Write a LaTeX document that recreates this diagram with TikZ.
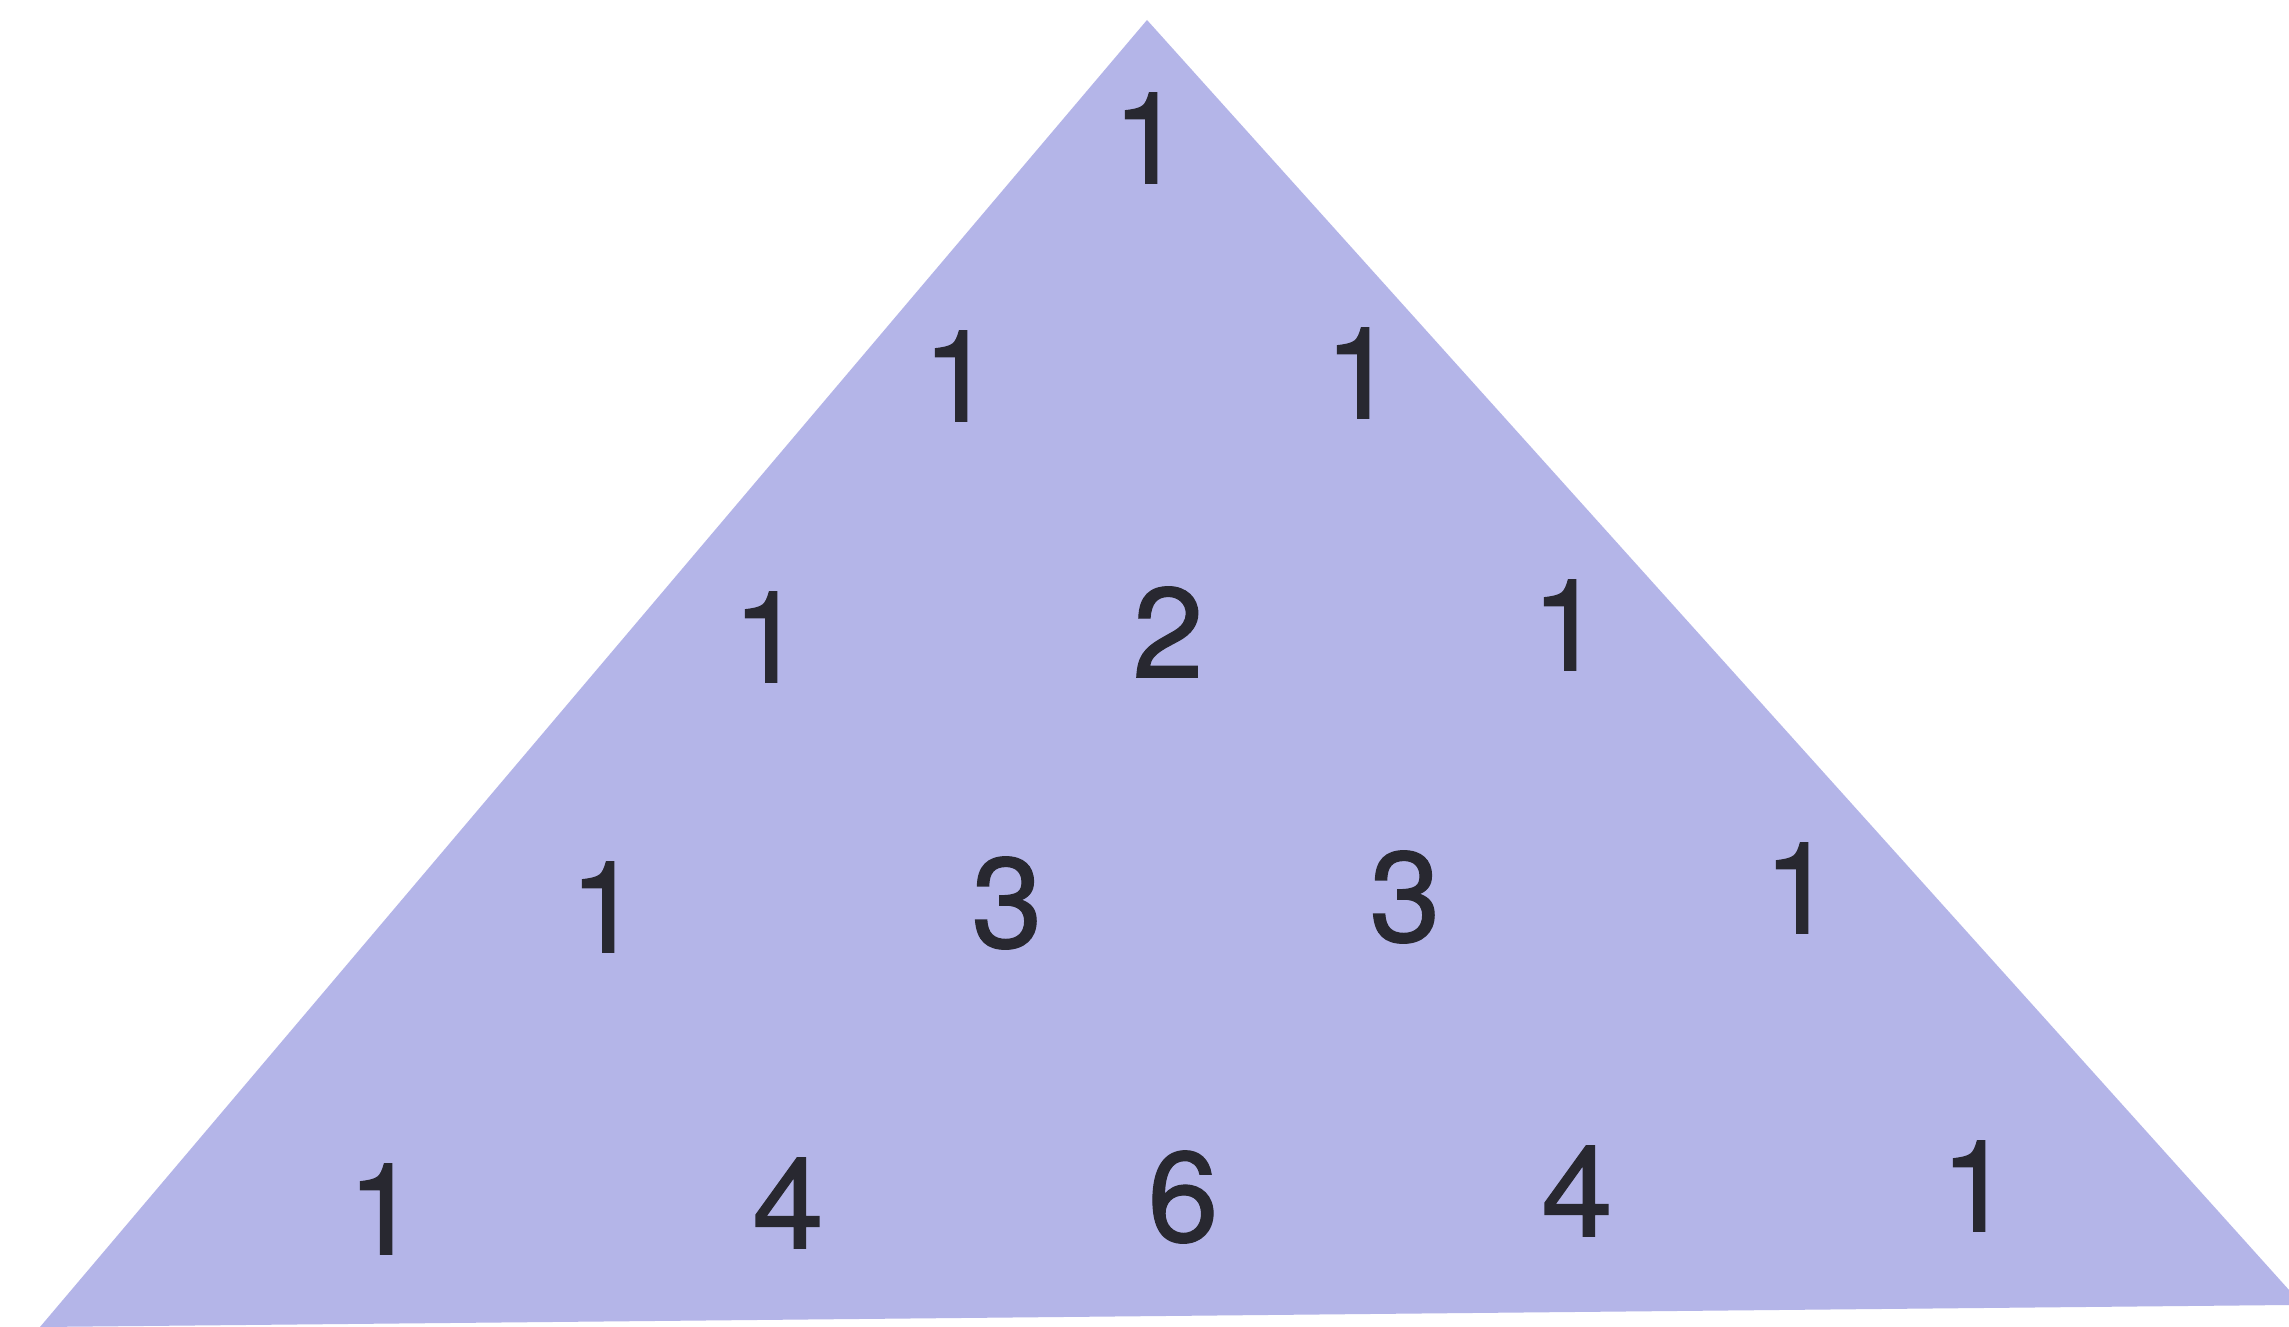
\documentclass[tikz,border=0pt]{standalone}
\usepackage{fontspec}
\newfontfamily\numfont[FakeBold=0.9]{TeX Gyre Heros}
\definecolor{tri}{RGB}{180,181,232}
\definecolor{ink}{RGB}{40,40,48}
\begin{document}
\begin{tikzpicture}[x=1pt,y=-1pt,
  num/.style={text=ink,font=\numfont\fontsize{128}{128}\selectfont,inner sep=0pt,anchor=center}]
\path[fill=white] (0,0) rectangle (2289,1327);
\useasboundingbox (0,0) rectangle (2289,1327);
\fill[tri] (1147,20) -- (2289,1290) -- (2289,1305) -- (40,1327) -- cycle;
\node[num] (r1a) at (1148,138) {1};
\node[num] (r2a) at (958,376) {1};
\node[num] (r2b) at (1360,373) {1};
\node[num] (r3a) at (768,637) {1};
\node[num] (r3b) at (1168,632) {2};
\node[num] (r3c) at (1567,625) {1};
\node[num] (r4a) at (605,907) {1};
\node[num] (r4b) at (1007,903) {3};
\node[num] (r4c) at (1405,897) {3};
\node[num] (r4d) at (1799,888) {1};
\node[num] (r5a) at (383,1209) {1};
\node[num] (r5b) at (788,1203) {4};
\node[num] (r5c) at (1183,1197) {6};
\node[num] (r5d) at (1577,1191) {4};
\node[num] (r5e) at (1976,1186) {1};
\end{tikzpicture}
\end{document}
